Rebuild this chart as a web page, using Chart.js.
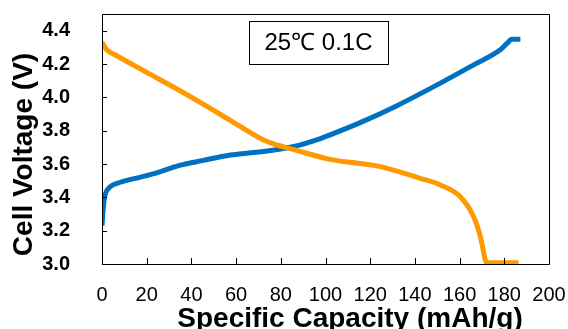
<!DOCTYPE html>
<html><head><meta charset="utf-8">
<script src="https://cdn.jsdelivr.net/npm/chart.js@4"></script>
<style>html,body{margin:0;padding:0;background:#fff}#wrap{width:568px;height:329px;position:relative}</style>
</head><body><div id="wrap"><canvas id="c" width="568" height="329"></canvas></div>
<script>
const chargeCapacity = [0, 0.3, 0.8, 1.5, 3.7, 6.7, 14.9, 23.8, 34.3, 44.7, 57.4, 70, 80, 88, 95, 102.1, 115, 132, 151.4, 166.3, 178.2, 181.1, 183.4, 187.2];
const chargeVoltage  = [3.23, 3.29, 3.37, 3.42, 3.464, 3.484, 3.514, 3.544, 3.59, 3.62, 3.654, 3.672, 3.69, 3.712, 3.74, 3.775, 3.845, 3.95, 4.085, 4.195, 4.285, 4.322, 4.348, 4.348];
const dischargeCapacity = [0, 2.2, 6, 19.4, 34.3, 44.7, 57.4, 72.3, 78.3, 84.3, 102.1, 124.5, 142.4, 151.4, 160.3, 166.3, 169.3, 171.5, 171.9, 186.4];
const dischargeVoltage  = [4.33, 4.284, 4.254, 4.154, 4.044, 3.964, 3.862, 3.744, 3.714, 3.692, 3.628, 3.584, 3.514, 3.474, 3.404, 3.284, 3.164, 3.024, 3.008, 3.008];
const xTickValues = [0, 20, 40, 60, 80, 100, 120, 140, 160, 180, 200];
const yTickValues = [3.0, 3.2, 3.4, 3.6, 3.8, 4.0, 4.2, 4.4];
const xAxisTitle = 'Specific Capacity (mAh/g)';
const yAxisTitle = 'Cell Voltage (V)';
const annotationText = '25℃ 0.1C';

const FONT = "'Liberation Sans', Arial, sans-serif";
const toPoints = (xs, ys) => xs.map((x, i) => ({x, y: ys[i]}));
const noPad = s => { s.paddingTop = 0; s.paddingBottom = 0; s.paddingLeft = 0; s.paddingRight = 0; };

const framePlugin = {
  id: 'frame',
  afterDraw(chart) {
    const {ctx, chartArea: a, scales: {x, y}} = chart;
    ctx.save();
    ctx.strokeStyle = '#000';
    ctx.lineWidth = 1;
    ctx.beginPath();
    ctx.rect(a.left + 0.5, a.top + 0.5, a.right - a.left, a.bottom - a.top);
    ctx.stroke();
    ctx.beginPath();
    yTickValues.forEach(v => {
      const py = Math.round(y.getPixelForValue(v)) + 0.5;
      ctx.moveTo(a.left, py); ctx.lineTo(a.left + 5, py);
    });
    xTickValues.forEach(v => {
      const px = Math.round(x.getPixelForValue(v)) + 0.5;
      ctx.moveTo(px, a.bottom); ctx.lineTo(px, a.bottom - 6);
    });
    ctx.stroke();
    // annotation box
    ctx.fillStyle = '#fff';
    ctx.fillRect(249, 21, 139, 43);
    ctx.strokeRect(249.5, 21.5, 139, 43);
    ctx.fillStyle = '#000';
    ctx.font = '24px ' + FONT;
    ctx.textAlign = 'center';
    ctx.textBaseline = 'middle';
    ctx.fillText(annotationText, 318.5, 43);
    // axis titles
    ctx.font = 'bold 28px ' + FONT;
    ctx.textBaseline = 'alphabetic';
    ctx.fillText(xAxisTitle, 350, 327);
    ctx.translate(32, 154.5);
    ctx.rotate(-Math.PI / 2);
    ctx.fillText(yAxisTitle, 0, 0);
    ctx.restore();
  }
};

new Chart(document.getElementById('c'), {
  type: 'line',
  data: {
    datasets: [
      {label: 'Discharge', data: toPoints(dischargeCapacity, dischargeVoltage), borderColor: '#FF9900', borderWidth: 5, pointRadius: 0, cubicInterpolationMode: 'monotone', fill: false},
      {label: 'Charge', data: toPoints(chargeCapacity, chargeVoltage), borderColor: '#0070C0', borderWidth: 5, pointRadius: 0, cubicInterpolationMode: 'monotone', fill: false}
    ]
  },
  options: {
    responsive: false,
    animation: false,
    layout: {padding: {left: 0, right: 19, top: 14, bottom: 0}},
    plugins: {legend: {display: false}, tooltip: {enabled: false}},
    scales: {
      x: {
        type: 'linear', min: 0, max: 200,
        afterBuildTicks: s => { s.ticks = xTickValues.map(v => ({value: v})); },
        afterFit: s => { s.height = 65; noPad(s); },
        grid: {display: false},
        border: {display: false},
        ticks: {padding: 11, color: '#000', font: {family: FONT, size: 20}, maxRotation: 0, callback: v => String(v)}
      },
      y: {
        type: 'linear', min: 3.0, max: 4.5,
        afterBuildTicks: s => { s.ticks = yTickValues.map(v => ({value: v})); },
        afterFit: s => { s.width = 102; noPad(s); },
        grid: {display: false},
        border: {display: false},
        ticks: {padding: 24, color: '#000', font: {family: FONT, size: 20, weight: 'bold'}, callback: v => Number(v).toFixed(1)}
      }
    }
  },
  plugins: [framePlugin]
});
</script></body></html>
